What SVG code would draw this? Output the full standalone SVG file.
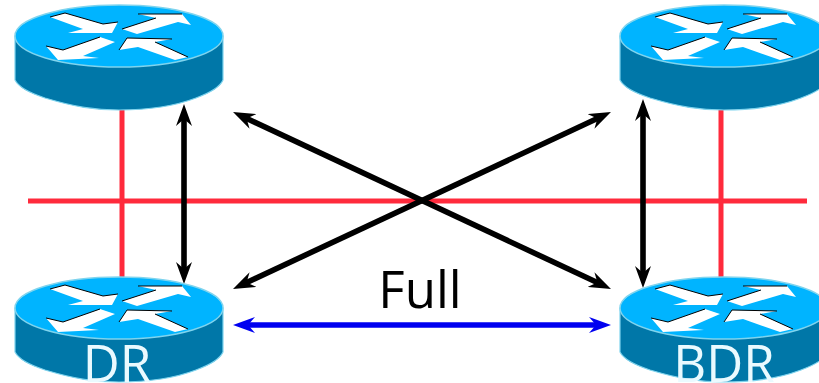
<svg xmlns="http://www.w3.org/2000/svg" width="819" height="383" viewBox="0 0 819 383">
<style>
.side{fill:#0077a8;stroke:#7fd4ee;stroke-width:1.2}
.top{fill:#00b4ff;stroke:#7fd4ee;stroke-width:1.5}
.ar{fill:#fff}
.sh{fill:none;stroke:#000;stroke-width:1}
.lan{stroke:#ff2a3c;stroke-width:5;fill:none}
.blk{stroke:#000;stroke-width:5.6;fill:none}
.blu{stroke:#0000f0;stroke-width:5.4;fill:none}
text{font-family:"Open Sans","DejaVu Sans",sans-serif}
.lb{font-size:51px;fill:#000}
.rl{font-size:51px;fill:#eafaff}
</style>
<defs>
<g id="router">
<path class="side" d="M15 36V80C19 88 30 93 45 98C75 107 95 110 119 110C150 110 175 106 196 98C212 92 220 87 223 80V36Z"/>
<ellipse class="top" cx="119" cy="36" rx="104" ry="31"/>
<path class="ar" d="M50 17L65 13L103 24L118 22L112 33L68 33L83 29Z"/>
<path class="sh" d="M50 17L65 13L103 24L118 22"/>
<path class="ar" d="M122 29L156 18L138 14L182 14L191 25L178 22L137 34Z"/>
<path class="sh" d="M122 29L156 18M138 14L182 14"/>
<path class="ar" d="M46 46L63 50L100 37L115 42L83 56L99 58L58 60Z"/>
<path class="sh" d="M46 46L63 50L100 37"/>
<path class="ar" d="M119 50L127 38L172 39L155 42L188 57L175 60L138 47Z"/>
<path class="sh" d="M119 50L127 38L172 39M155 42L188 57"/>
</g>
<marker id="ah" viewBox="0 0 22 16" refX="8" refY="8" markerWidth="22" markerHeight="16" markerUnits="userSpaceOnUse" orient="auto-start-reverse"><path d="M0 0L22 8L0 16L7 8Z" fill="#000"/></marker>
<marker id="ahb" viewBox="0 0 22 16" refX="8" refY="8" markerWidth="22" markerHeight="16" markerUnits="userSpaceOnUse" orient="auto-start-reverse"><path d="M0 0L22 8L0 16L7 8Z" fill="#0000f0"/></marker>
</defs>
<g id="connectors">
<path class="lan" d="M28 201H807M122 110V280M721 110V280"/>
<path class="blk" d="M184 118V270" marker-start="url(#ah)" marker-end="url(#ah)"/>
<path class="blk" d="M643 113V274" marker-start="url(#ah)" marker-end="url(#ah)"/>
<path class="blk" d="M245.7 118L598.3 283" marker-start="url(#ah)" marker-end="url(#ah)"/>
<path class="blk" d="M245.7 283L598.3 118" marker-start="url(#ah)" marker-end="url(#ah)"/>
<path class="blu" d="M247 325H597" marker-start="url(#ahb)" marker-end="url(#ahb)"/>
</g>
<g id="r1"><use href="#router"/></g>
<g id="r2"><use href="#router" x="605"/></g>
<g id="r3"><use href="#router" y="272"/><text class="rl" x="117" y="382" text-anchor="middle">DR</text></g>
<g id="r4"><use href="#router" x="605" y="272"/><text class="rl" x="724" y="382" text-anchor="middle">BDR</text></g>
<text id="lbl" class="lb" x="420" y="308" text-anchor="middle">Full</text>
</svg>
